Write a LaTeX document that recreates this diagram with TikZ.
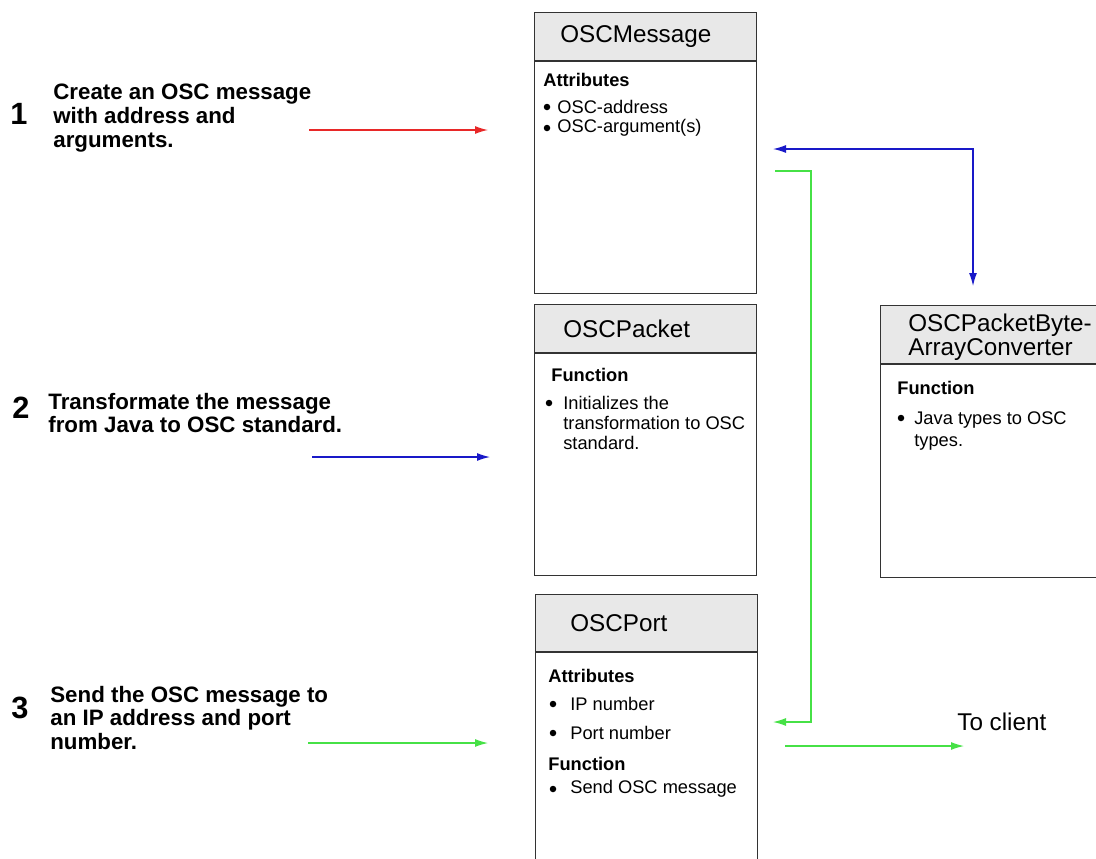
\documentclass[tikz,border=0pt]{standalone}
\usepackage{fontspec}
\setmainfont{Liberation Sans}
\usetikzlibrary{positioning,arrows.meta}

\definecolor{headgray}{RGB}{232,232,232}
\definecolor{oscred}{RGB}{232,40,40}
\definecolor{oscblue}{RGB}{25,25,200}
\definecolor{oscgreen}{RGB}{70,225,70}

\begin{document}
\begin{tikzpicture}[x=0.02cm, y=-0.02cm, >={Latex[length=2.6mm,width=1.6mm]},
    head/.style={rectangle, draw=black!80, line width=0.6pt, fill=headgray, minimum width=4.44cm, anchor=north west, inner sep=0pt},
    body/.style={rectangle, draw=black!80, line width=0.6pt, fill=white, minimum width=4.44cm, inner sep=0pt},
    title/.style={anchor=west, inner sep=0pt, align=left, font=\fontsize{13.8}{13}\selectfont},
    sec/.style={anchor=west, inner sep=0pt, font=\fontsize{10.4}{12}\selectfont\bfseries},
    item/.style={anchor=west, inner sep=0pt, align=left, font=\fontsize{10.4}{11.4}\selectfont},
    dot/.style={fill=black},
    stepno/.style={inner sep=0pt, font=\fontsize{17.5}{17.5}\selectfont\bfseries},
    steptext/.style={anchor=west, inner sep=0pt, align=left, font=\fontsize{12.7}{13.6}\selectfont\bfseries},
    conn/.style={->, line width=0.7pt}]
    \useasboundingbox (0,0) rectangle (1096,859);
    \clip (0,0) rectangle (1096,859);

    % steps on the left
    \node[stepno] (n1) at (19,114) {1};
    \node[steptext] (t1) at (53,118) {Create an OSC message\\with address and\\arguments.};
    \node[stepno] (n2) at (21,408) {2};
    \node[steptext] (t2) at (48,413) {Transformate the message\\from Java to OSC standard.};
    \node[stepno] (n3) at (20,708) {3};
    \node[steptext] (t3) at (50,718) {Send the OSC message to\\an IP address and port\\number.};

    % OSCMessage
    \node[head, minimum height=0.96cm] (msghead) at (534,12) {};
    \node[body, minimum height=4.64cm, below=0pt of msghead] (msgbody) {};
    \node[title] (msgtitle) at ([xshift=0.52cm]msghead.west) {OSCMessage};
    \node[sec] (msgattr) at (543,80) {Attributes};
    \node[item] (msgaddr) at (557,107) {OSC-address};
    \node[item] (msgargs) at (557,128) {OSC-argument(s)};
    \fill[dot] (547,107) circle (0.065cm) (547,128) circle (0.065cm);

    % OSCPacket
    \node[head, minimum height=0.96cm] (pkthead) at (534,304) {};
    \node[body, minimum height=4.44cm, below=0pt of pkthead] (pktbody) {};
    \node[title] (pkttitle) at ([xshift=0.58cm]pkthead.west) {OSCPacket};
    \node[sec] (pktfunc) at (551,375) {Function};
    \node[item] (pktinit) at (563,423) {Initializes the\\transformation to OSC\\standard.};
    \fill[dot] (549,403) circle (0.065cm);

    % OSCPacketByteArrayConverter
    \node[head, minimum width=4.9cm, minimum height=1.16cm] (convhead) at (880,305) {};
    \node[body, minimum width=4.9cm, minimum height=4.26cm, below=0pt of convhead] (convbody) {};
    \node[title, font=\fontsize{13.8}{13.2}\selectfont] (convtitle) at ([xshift=0.56cm, yshift=-0.06cm]convhead.west) {OSCPacketByte-\\[0.5pt]ArrayConverter};
    \node[sec] (convfunc) at (897,388) {Function};
    \node[item, font=\fontsize{10.4}{12.4}\selectfont] (convtypes) at (914,431) {Java types to OSC\\types.};
    \fill[dot] (901,418) circle (0.065cm);

    % OSCPort
    \node[head, minimum height=1.14cm] (porthead) at (535,594) {};
    \node[body, minimum height=4.6cm, below=0pt of porthead] (portbody) {};
    \node[title] (porttitle) at ([xshift=0.7cm]porthead.west) {OSCPort};
    \node[sec] (portattr) at (548,676) {Attributes};
    \node[item] (portip) at (570,704) {IP number};
    \node[item] (portnum) at (570,733) {Port number};
    \node[sec] (portfunc) at (548,764) {Function};
    \node[item] (portsend) at (570,789) {Send OSC message};
    \fill[dot] (553,704) circle (0.065cm) (553,733) circle (0.065cm) (553,789) circle (0.065cm);

    \node[title] (client) at (957,722) {To client};

    % connector ends
    \coordinate (r1) at (309,130);
    \coordinate (r2) at (488,130);
    \coordinate (b1) at (312,457);
    \coordinate (b2) at (490,457);
    \coordinate (g1) at (308,743);
    \coordinate (g2) at (488,743);
    \coordinate (msgin) at (773,149);
    \coordinate (convin) at (973,286);
    \coordinate (msgout) at (775,171);
    \coordinate (portin) at (773,722);
    \coordinate (portout) at (785,746);
    \coordinate (clientin) at (964,746);

    \draw[conn, oscred] (r1) -- (r2);
    \draw[conn, oscblue] (b1) -- (b2);
    \draw[conn, oscgreen] (g1) -- (g2);
    \draw[conn, <->, oscblue] (msgin) -| (convin);
    \draw[conn, oscgreen] (msgout) -- +(36,0) |- (portin);
    \draw[conn, oscgreen] (portout) -- (clientin);
\end{tikzpicture}
\end{document}
